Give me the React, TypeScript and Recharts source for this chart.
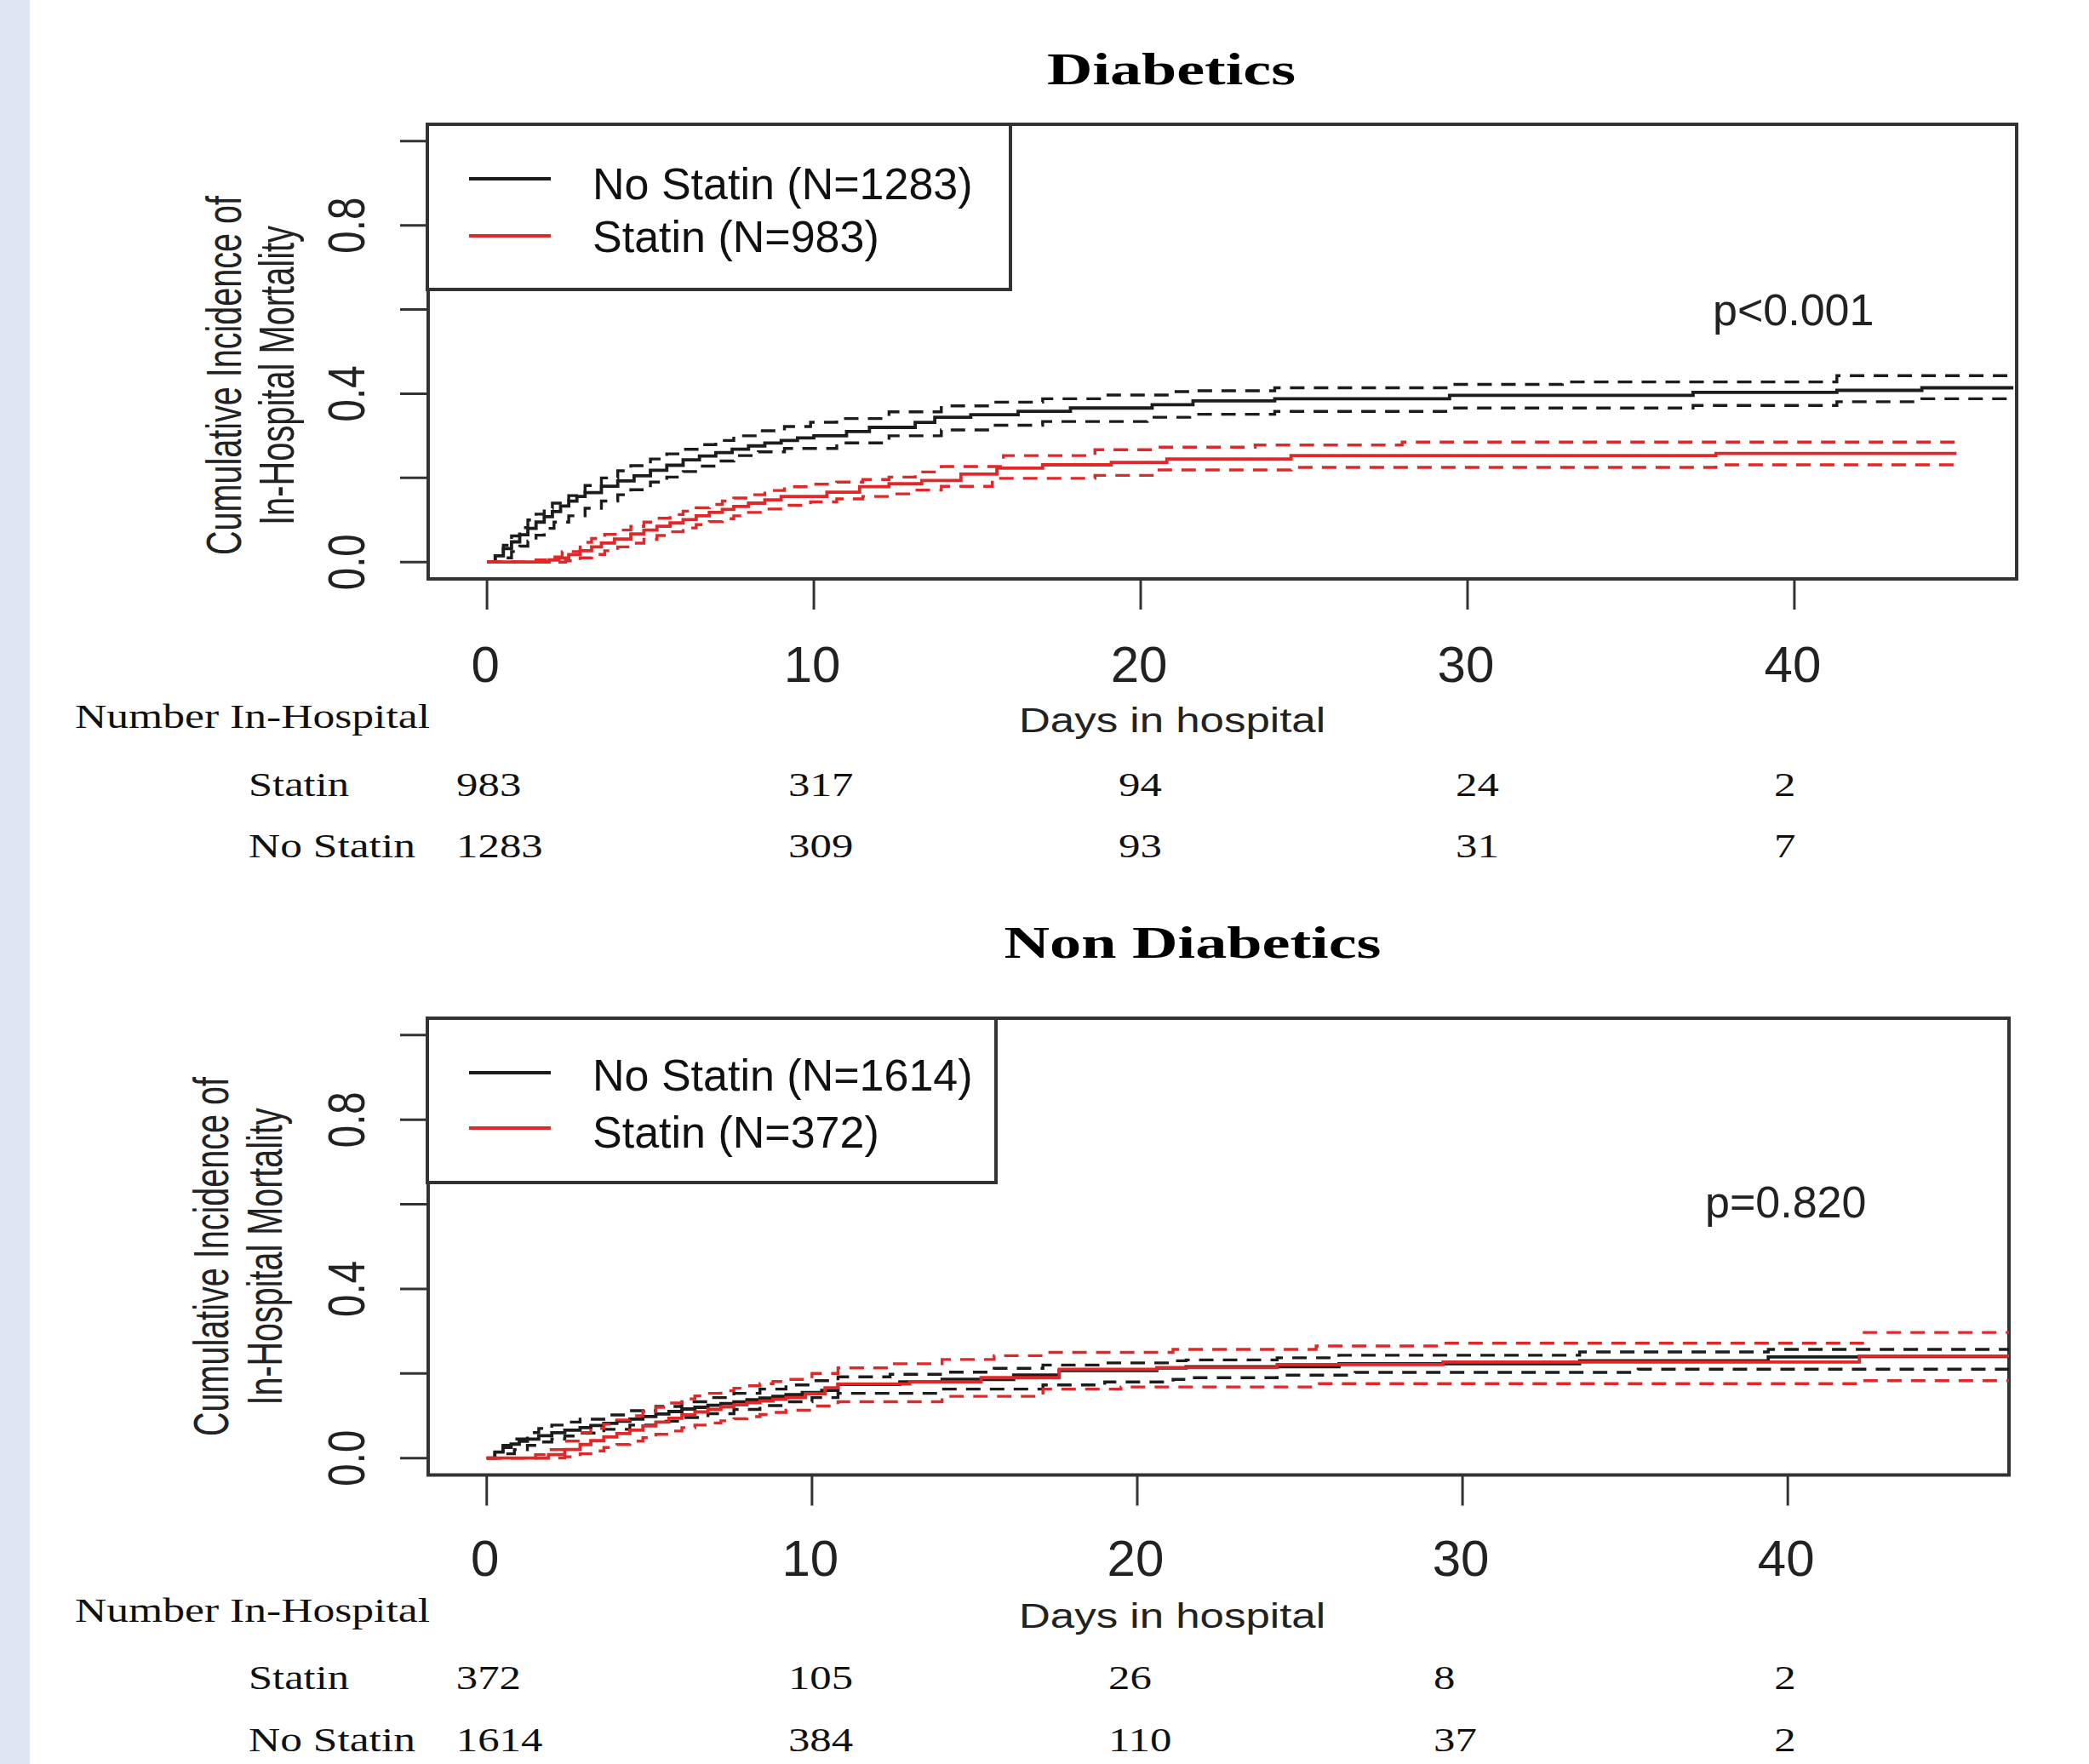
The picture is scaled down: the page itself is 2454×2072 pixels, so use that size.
import React from 'react';
import { LineChart, Line, XAxis, YAxis, ReferenceArea } from 'recharts';

type Pt = [number, number];

// ---------------- data ----------------
const xTicks = [0, 10, 20, 30, 40];
const yTicks = [0, 0.2, 0.4, 0.6, 0.8, 1.0];
const yTickLabels = ['0.0', '', '0.4', '', '0.8', ''];

const panelTitles = ['Diabetics', 'Non Diabetics'];
const pValues = ['p<0.001', 'p=0.820'];
const diabLegend = ['No Statin (N=1283)', 'Statin (N=983)'];
const nonDiabLegend = ['No Statin (N=1614)', 'Statin (N=372)'];
const yTitleLines = ['Cumulative  Incidence  of', 'In-Hospital  Mortality'];
const xTitle = 'Days in hospital';
const riskTitle = 'Number In-Hospital';
const riskRowLabels = ['Statin', 'No Statin'];

const diabRiskStatin = [983, 317, 94, 24, 2];
const diabRiskNoStatin = [1283, 309, 93, 31, 7];
const nonDiabRiskStatin = [372, 105, 26, 8, 2];
const nonDiabRiskNoStatin = [1614, 384, 110, 37, 2];

const diabNoStatin: Pt[] = [[0,0],[0.25,0.015],[0.5,0.032],[0.75,0.048],[1,0.065],[1.25,0.08],[1.5,0.095],[1.75,0.108],[2,0.12],[2.25,0.133],[2.5,0.145],[2.75,0.156],[3,0.165],[3.5,0.18],[4,0.193],[4.5,0.205],[5,0.218],[5.5,0.23],[6,0.243],[6.5,0.252],[7,0.26],[7.5,0.268],[8,0.276],[8.5,0.283],[9,0.289],[9.5,0.295],[10,0.3],[11,0.31],[11.7,0.32],[13.1,0.332],[13.7,0.344],[14.8,0.35],[16.25,0.358],[17.85,0.366],[20.35,0.374],[21.6,0.383],[24.1,0.388],[29.45,0.396],[36.9,0.403],[41.3,0.408],[43.9,0.414],[46.7,0.414]];
const diabNoStatinHi: Pt[] = [[0,0],[0.25,0.02],[0.5,0.04],[0.75,0.062],[1,0.082],[1.25,0.1],[1.5,0.114],[1.75,0.128],[2,0.14],[2.5,0.158],[3,0.182],[3.5,0.2],[4,0.217],[4.4,0.229],[5,0.245],[5.5,0.257],[6,0.268],[6.5,0.279],[7,0.289],[7.55,0.3],[8.3,0.312],[9.1,0.322],[9.9,0.332],[10.7,0.341],[12.3,0.357],[13.9,0.371],[15.5,0.38],[17,0.388],[19,0.397],[21,0.405],[21.5,0.407],[24.1,0.414],[29.45,0.422],[32.9,0.428],[41.3,0.443],[46.7,0.443]];
const diabNoStatinLo: Pt[] = [[0,0],[0.5,0.01],[0.75,0.025],[1,0.038],[1.25,0.05],[1.5,0.064],[1.75,0.08],[2.05,0.095],[2.5,0.11],[3,0.128],[3.5,0.145],[4,0.16],[4.4,0.172],[5,0.19],[5.5,0.202],[6,0.215],[6.5,0.228],[7,0.24],[7.55,0.253],[8.3,0.262],[9.1,0.27],[10.7,0.283],[12.3,0.3],[13.9,0.314],[15.5,0.325],[17,0.334],[20.2,0.344],[21.5,0.351],[24.1,0.358],[29.45,0.366],[36.9,0.372],[41.3,0.381],[43.9,0.388],[46.7,0.388]];
const diabStatin: Pt[] = [[0,0],[1.9,0.005],[2.2,0.01],[2.5,0.018],[2.85,0.027],[3.2,0.036],[3.5,0.045],[3.9,0.055],[4.4,0.067],[4.8,0.076],[5.2,0.085],[5.6,0.093],[6,0.101],[6.4,0.11],[6.8,0.118],[7.2,0.125],[7.55,0.132],[8,0.14],[8.5,0.148],[9,0.156],[10.4,0.166],[11.4,0.179],[12.3,0.186],[13.3,0.194],[14.5,0.209],[15.6,0.223],[17,0.231],[19.1,0.237],[20.8,0.245],[24.6,0.253],[37.6,0.258],[44.96,0.258]];
const diabStatinHi: Pt[] = [[0,0],[1.5,0.005],[1.9,0.012],[2.3,0.025],[2.85,0.047],[3.2,0.056],[3.6,0.066],[4,0.076],[4.4,0.085],[4.8,0.095],[5.2,0.104],[5.6,0.113],[6,0.121],[6.4,0.129],[6.8,0.137],[7.2,0.145],[7.55,0.152],[8,0.16],[8.5,0.17],[9.1,0.179],[9.9,0.185],[10.7,0.19],[11.5,0.196],[12.3,0.202],[13.1,0.214],[13.9,0.227],[15.8,0.253],[18.6,0.267],[20.5,0.273],[23.5,0.278],[28,0.285],[44.96,0.285]];
const diabStatinLo: Pt[] = [[0,0],[2.4,0.003],[2.85,0.01],[3.2,0.018],[3.6,0.027],[4,0.036],[4.4,0.045],[4.8,0.054],[5.2,0.063],[5.6,0.072],[6,0.081],[6.4,0.089],[6.8,0.096],[7.2,0.103],[7.55,0.11],[8,0.118],[8.5,0.126],[9.1,0.135],[9.9,0.143],[10.7,0.15],[11.5,0.156],[12.3,0.162],[13.1,0.171],[13.9,0.18],[15.46,0.199],[18.6,0.206],[20.5,0.219],[24.6,0.225],[37.6,0.231],[44.96,0.231]];

const nonDiabNoStatin: Pt[] = [[0,0],[0.25,0.014],[0.5,0.025],[0.75,0.033],[1,0.04],[1.25,0.045],[1.6,0.053],[2,0.06],[2.4,0.066],[2.87,0.072],[3.2,0.077],[3.6,0.082],[4,0.087],[4.4,0.092],[4.8,0.098],[5.2,0.104],[5.6,0.11],[6,0.116],[6.4,0.12],[6.8,0.125],[7.2,0.129],[7.6,0.133],[8,0.138],[8.4,0.142],[8.8,0.146],[9.2,0.15],[9.7,0.155],[10.3,0.16],[10.8,0.174],[12.7,0.18],[14,0.186],[16.2,0.196],[17.6,0.207],[20.6,0.213],[21.5,0.216],[26.2,0.223],[33.6,0.23],[39.4,0.239],[42.2,0.24],[46.8,0.24]];
const nonDiabNoStatinHi: Pt[] = [[0,0],[0.25,0.018],[0.5,0.03],[0.85,0.045],[1.25,0.06],[1.6,0.07],[2,0.078],[2.4,0.085],[2.87,0.092],[3.6,0.102],[4.4,0.112],[5.2,0.122],[6,0.133],[6.8,0.143],[7.6,0.153],[8.4,0.163],[9.2,0.173],[10,0.183],[10.8,0.192],[12.4,0.198],[14,0.203],[15.6,0.212],[17.1,0.22],[19,0.225],[21.1,0.23],[21.5,0.232],[24.3,0.237],[26.2,0.243],[33.6,0.251],[39.4,0.257],[46.8,0.257]];
const nonDiabNoStatinLo: Pt[] = [[0,0],[0.5,0.01],[0.85,0.02],[1.25,0.03],[1.6,0.038],[2,0.045],[2.4,0.052],[2.87,0.059],[3.6,0.068],[4.4,0.078],[5.2,0.087],[6,0.096],[6.8,0.105],[7.6,0.115],[8.4,0.124],[9.2,0.133],[10,0.143],[10.8,0.153],[14,0.163],[17.1,0.173],[19,0.18],[21.1,0.186],[21.5,0.19],[24.3,0.196],[26.7,0.2025],[35.4,0.21],[46.8,0.21]];
const nonDiabStatin: Pt[] = [[0,0],[1.9,0.008],[2.4,0.02],[2.87,0.032],[3.2,0.041],[3.6,0.05],[4,0.058],[4.4,0.066],[4.8,0.076],[5.2,0.085],[5.6,0.094],[6,0.102],[6.4,0.109],[6.8,0.115],[7.2,0.121],[7.6,0.126],[8,0.131],[8.4,0.135],[8.8,0.139],[9.2,0.143],[9.8,0.152],[10.4,0.166],[10.8,0.175],[13,0.18],[15.2,0.19],[17.6,0.21],[20.6,0.214],[24.3,0.221],[29.4,0.227],[42.2,0.241],[46.8,0.241]];
const nonDiabStatinHi: Pt[] = [[0,0],[1.5,0.008],[1.9,0.02],[2.4,0.04],[2.87,0.06],[3.2,0.07],[3.6,0.08],[4,0.09],[4.4,0.1],[4.8,0.11],[5.2,0.12],[5.6,0.13],[6,0.14],[6.4,0.147],[6.8,0.153],[7.2,0.159],[7.6,0.165],[8,0.171],[8.4,0.176],[8.8,0.181],[9.2,0.186],[10,0.2],[10.8,0.213],[12.4,0.223],[14,0.233],[15.6,0.242],[17.1,0.25],[21.1,0.257],[25.5,0.265],[29.4,0.2716],[42.3,0.297],[46.8,0.297]];
const nonDiabStatinLo: Pt[] = [[0,0],[2.4,0.003],[2.87,0.01],[3.2,0.017],[3.6,0.025],[4,0.032],[4.4,0.04],[4.8,0.048],[5.2,0.056],[5.6,0.064],[6,0.072],[6.4,0.078],[6.8,0.083],[7.2,0.088],[7.6,0.093],[8,0.098],[8.4,0.103],[8.8,0.108],[9.2,0.113],[10,0.123],[10.8,0.133],[14,0.146],[17.1,0.163],[19.5,0.168],[25.6,0.176],[42.3,0.183],[46.8,0.183]];

// ---------------- style / layout ----------------
const SANS = '"Liberation Sans", Arial, Helvetica, sans-serif';
const SERIF = '"Liberation Serif", "Times New Roman", Times, serif';
const BLACK = '#1c1c1c';
const RED = '#e02828';
const BOX = '#333333';
const X_DOMAIN: [number, number] = [-1.8, 46.8];
const Y_DOMAIN: [number, number] = [-0.04, 1.04];

interface PanelLayout {
  chartTop: number; chartHeight: number;
  plotLeft: number; plotRight: number; plotTop: number; plotBottom: number; // page coords
  titleX: number; titleY: number; titleLen: number;
  yTitle1X: number; yTitle2X: number; yTitleCY: number; yTitle1Len: number; yTitle2Len: number;
  xTitleY: number;
  tickLabelY: number;
  riskTitleY: number; riskRowY: [number, number]; riskColDx: number[];
  legendW: number; legendH: number;
  legendLineY: [number, number]; legendTextY: [number, number];
  pX: number; pY: number;
}

const layouts: PanelLayout[] = [
  {
    chartTop: 0, chartHeight: 1050,
    plotLeft: 503, plotRight: 2369, plotTop: 146, plotBottom: 680,
    titleX: 1376, titleY: 99, titleLen: 292,
    yTitle1X: 283, yTitle2X: 345, yTitleCY: 441, yTitle1Len: 422, yTitle2Len: 352,
    xTitleY: 860, tickLabelY: 801,
    riskTitleY: 855, riskRowY: [935, 1007], riskColDx: [-36, -30, -26, -14, -24],
    legendW: 685, legendH: 194, legendLineY: [210, 277], legendTextY: [234, 296],
    pX: 2012, pY: 382,
  },
  {
    chartTop: 1050, chartHeight: 1022,
    plotLeft: 503, plotRight: 2360, plotTop: 1196, plotBottom: 1732.5,
    titleX: 1401, titleY: 1125, titleLen: 443,
    yTitle1X: 268, yTitle2X: 331, yTitleCY: 1476, yTitle1Len: 422, yTitle2Len: 349,
    xTitleY: 1912, tickLabelY: 1851,
    riskTitleY: 1905, riskRowY: [1984, 2057], riskColDx: [-36, -28, -34, -34, -16],
    legendW: 668, legendH: 193, legendLineY: [1260, 1325], legendTextY: [1281, 1348],
    pX: 2003, pY: 1430,
  },
];

interface Series { pts: Pt[]; color: string; dashed: boolean; }
interface PanelData {
  title: string; p: string; legend: string[];
  series: Series[]; risk: [number[], number[]];
}

const panels: PanelData[] = [
  {
    title: panelTitles[0], p: pValues[0], legend: diabLegend,
    series: [
      { pts: diabNoStatinHi, color: BLACK, dashed: true },
      { pts: diabNoStatinLo, color: BLACK, dashed: true },
      { pts: diabNoStatin, color: BLACK, dashed: false },
      { pts: diabStatinHi, color: RED, dashed: true },
      { pts: diabStatinLo, color: RED, dashed: true },
      { pts: diabStatin, color: RED, dashed: false },
    ],
    risk: [diabRiskStatin, diabRiskNoStatin],
  },
  {
    title: panelTitles[1], p: pValues[1], legend: nonDiabLegend,
    series: [
      { pts: nonDiabNoStatinHi, color: BLACK, dashed: true },
      { pts: nonDiabNoStatinLo, color: BLACK, dashed: true },
      { pts: nonDiabNoStatin, color: BLACK, dashed: false },
      { pts: nonDiabStatinHi, color: RED, dashed: true },
      { pts: nonDiabStatinLo, color: RED, dashed: true },
      { pts: nonDiabStatin, color: RED, dashed: false },
    ],
    risk: [nonDiabRiskStatin, nonDiabRiskNoStatin],
  },
];

const legendColors = [BLACK, RED];

const toData = (pts: Pt[]) => pts.map(([day, v]) => ({ day, v }));

const TICK_LEN_X = 36;
const TICK_LEN_Y = 33;
const X_AXIS_H = 50;
const Y_AXIS_W = 50;

function Panel({ data, lay }: { data: PanelData; lay: PanelLayout }) {
  const W = 2454;
  const plotBottomLocal = lay.plotBottom - lay.chartTop;
  const margin = {
    top: lay.plotTop - lay.chartTop,
    left: lay.plotLeft - Y_AXIS_W,
    right: W - lay.plotRight,
    bottom: lay.chartHeight - plotBottomLocal - X_AXIS_H,
  };
  const tickBase = plotBottomLocal + TICK_LEN_X; // expected y passed to x tick

  const XTick = (props: any) => {
    const { x, y, payload } = props;
    const i = xTicks.indexOf(payload.value);
    const off = y - tickBase;
    return (
      <g>
        <text x={x - 2} y={lay.tickLabelY - lay.chartTop + off} textAnchor="middle"
          fontFamily={SANS} fontSize={60} fill="#222">{payload.value}</text>
        {data.risk.map((row, r) => (
          <text key={r}
            transform={`translate(${x + lay.riskColDx[i]},${lay.riskRowY[r] - lay.chartTop + off}) scale(1.24,1)`}
            fontFamily={SERIF} fontSize={41} fill="#111">{row[i]}</text>
        ))}
      </g>
    );
  };

  const YTick = (props: any) => {
    const { x, y, payload } = props;
    const i = yTicks.indexOf(payload.value);
    const label = yTickLabels[i];
    if (!label) return <g />;
    return (
      <text transform={`translate(${x - 42},${y}) rotate(-90)`} textAnchor="middle"
        fontFamily={SANS} fontSize={62} textLength={66} lengthAdjust="spacingAndGlyphs"
        fill="#222">{label}</text>
    );
  };

  return (
    <div style={{ position: 'absolute', left: 0, top: lay.chartTop }}>
      <LineChart width={W} height={lay.chartHeight} margin={margin}>
        <XAxis xAxisId="x" dataKey="day" type="number" domain={X_DOMAIN} ticks={xTicks}
          allowDataOverflow interval={0} height={X_AXIS_H} axisLine={false}
          tickSize={TICK_LEN_X} tickMargin={0}
          tickLine={{ stroke: BOX, strokeWidth: 3 }} tick={XTick} />
        <YAxis yAxisId="y" type="number" domain={Y_DOMAIN} ticks={yTicks}
          allowDataOverflow interval={0} width={Y_AXIS_W} axisLine={false}
          tickSize={TICK_LEN_Y} tickMargin={0}
          tickLine={{ stroke: BOX, strokeWidth: 3 }} tick={YTick} />
        {data.series.map((s, k) => (
          <Line key={k} xAxisId="x" yAxisId="y" data={toData(s.pts)} dataKey="v"
            type="stepAfter" stroke={s.color} strokeWidth={s.dashed ? 3.4 : 3.8}
            strokeDasharray={s.dashed ? '17 11' : undefined}
            dot={false} activeDot={false} legendType="none" isAnimationActive={false} />
        ))}
        <ReferenceArea xAxisId="x" yAxisId="y" x1={X_DOMAIN[0]} x2={X_DOMAIN[1]}
          y1={Y_DOMAIN[0]} y2={Y_DOMAIN[1]} fill="none" fillOpacity={0}
          stroke={BOX} strokeWidth={4} ifOverflow="visible" />
      </LineChart>
    </div>
  );
}

function Overlay() {
  return (
    <svg width={2454} height={2072} style={{ position: 'absolute', left: 0, top: 0, pointerEvents: 'none' }}>
      {panels.map((d, k) => {
        const lay = layouts[k];
        return (
          <g key={k}>
            <text x={lay.titleX} y={lay.titleY} textAnchor="middle" fontFamily={SERIF}
              fontWeight="bold" fontSize={53} textLength={lay.titleLen}
              lengthAdjust="spacingAndGlyphs" fill="#000">{d.title}</text>
            <text transform={`translate(${lay.yTitle1X},${lay.yTitleCY}) rotate(-90)`}
              textAnchor="middle" fontFamily={SANS} fontSize={58}
              textLength={lay.yTitle1Len} lengthAdjust="spacingAndGlyphs" fill="#222">{yTitleLines[0]}</text>
            <text transform={`translate(${lay.yTitle2X},${lay.yTitleCY}) rotate(-90)`}
              textAnchor="middle" fontFamily={SANS} fontSize={58}
              textLength={lay.yTitle2Len} lengthAdjust="spacingAndGlyphs" fill="#222">{yTitleLines[1]}</text>
            <text x={1377} y={lay.xTitleY} textAnchor="middle" fontFamily={SANS} fontSize={40}
              textLength={360} lengthAdjust="spacingAndGlyphs" fill="#222">{xTitle}</text>
            <text x={88} y={lay.riskTitleY} fontFamily={SERIF} fontSize={41}
              textLength={417} lengthAdjust="spacingAndGlyphs" fill="#111">{riskTitle}</text>
            <text x={292} y={lay.riskRowY[0]} fontFamily={SERIF} fontSize={41}
              textLength={118} lengthAdjust="spacingAndGlyphs" fill="#111">{riskRowLabels[0]}</text>
            <text x={292} y={lay.riskRowY[1]} fontFamily={SERIF} fontSize={41}
              textLength={196} lengthAdjust="spacingAndGlyphs" fill="#111">{riskRowLabels[1]}</text>
            {/* legend */}
            <rect x={lay.plotLeft - 1} y={lay.plotTop} width={lay.legendW} height={lay.legendH}
              fill="#fff" stroke={BOX} strokeWidth={4} />
            {d.legend.map((lab, i) => (
              <g key={i}>
                <line x1={551} x2={647} y1={lay.legendLineY[i]} y2={lay.legendLineY[i]}
                  stroke={legendColors[i]} strokeWidth={4} />
                <text x={696} y={lay.legendTextY[i]} fontFamily={SANS} fontSize={52} fill="#111">{lab}</text>
              </g>
            ))}
            <text x={lay.pX} y={lay.pY} fontFamily={SANS} fontSize={52} fill="#222">{d.p}</text>
          </g>
        );
      })}
    </svg>
  );
}

export default function App() {
  return (
    <div style={{ position: 'absolute', left: 0, top: 0, width: 2454, height: 2072, background: '#ffffff', overflow: 'hidden' }}>
      <div style={{ position: 'absolute', left: 0, top: 0, width: 35, height: 2072, background: '#dfe5f2' }} />
      {panels.map((d, k) => <Panel key={k} data={d} lay={layouts[k]} />)}
      <Overlay />
    </div>
  );
}
